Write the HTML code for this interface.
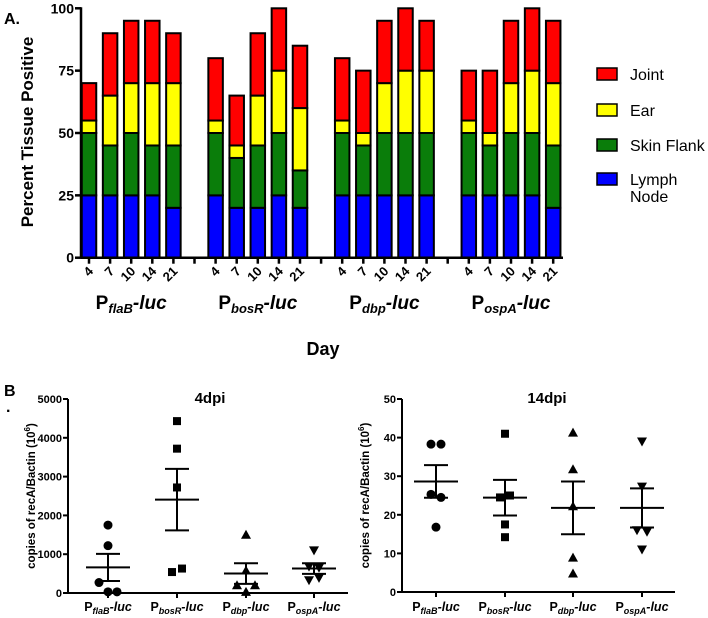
<!DOCTYPE html>
<html><head><meta charset="utf-8"><style>
body{margin:0;background:#fff}
svg{display:block;font-family:"Liberation Sans",Arial,sans-serif;font-weight:bold}
</style></head><body>
<svg id="fig" width="708" height="618" viewBox="0 0 708 618">
<text x="4" y="24" font-size="16">A.</text>
<text x="4" y="396" font-size="16">B</text>
<text x="6" y="412" font-size="16">.</text>
<g id="topg"></g><g id="b1"></g><g id="b2"></g>
</svg>
<script>
const NS="http://www.w3.org/2000/svg";
const groups=["flaB","bosR","dbp","ospA"];
const days=["4","7","10","14","21"];
const yTicksA=[0,25,50,75,100];
const lymph=[25,25,25,25,20, 25,20,20,25,20, 25,25,25,25,25, 25,25,25,25,20];
const skin =[25,20,25,20,25, 25,20,25,25,15, 25,20,25,25,25, 25,20,25,25,25];
const ear  =[5,20,20,25,25,  5,5,20,25,25,  5,5,20,25,25,  5,5,20,25,25];
const joint=[15,25,25,25,20, 25,20,25,25,25, 25,25,25,25,20, 20,25,25,25,25];
const seriesNames=["Lymph Node","Skin Flank","Ear","Joint"];
const seriesColors=["#0000ff","#0a7d0a","#ffff00","#ff0000"];

const catsB=["flaB","bosR","dbp","ospA"];
const d4flaB=[1750,1220,270,30,30];
const d4bosR=[4430,3720,2720,540,630];
const d4dbp=[1500,580,200,200,30];
const d4ospA=[1100,680,650,330,390];
const d14flaB=[38.3,38.3,25.3,24.5,16.8];
const d14bosR=[41,24.5,25,17.5,14.2];
const d14dbp=[41.3,31.8,22.2,8.9,4.8];
const d14ospA=[39,27.3,16,15.6,11];
const ticks4=[0,1000,2000,3000,4000,5000];
const ticks14=[0,10,20,30,40,50];
const jitter=[[0,0,-9,0,9],[0,0,0,-5,5],[0,0,-9,9,0],[0,-5,5,-5,5]];
const jitter14=[[-5,5,-5,5,0],[0,-5,5,0,0],[0,0,0,0,0],[0,0,-5,5,0]];

function el(tag,attrs,parent,text){const e=document.createElementNS(NS,tag);for(const k in attrs)e.setAttribute(k,attrs[k]);if(text!==undefined)e.textContent=text;parent.appendChild(e);return e;}

// ---- Panel A ----
const topG=document.getElementById('topg');
const ax0=81,y0=257.7,yTop=8.3,slot=21.1,bw=14.5;
const yA=v=>y0-(y0-yTop)*v/100;
const xA=i=>89+slot*i;
function slotIdx(g,d){return g*6+d;}
const stacks=[lymph,skin,ear,joint];
for(let g=0;g<4;g++)for(let d=0;d<5;d++){
  const k=g*5+d;let base=0;
  for(let s=0;s<4;s++){
    const v=stacks[s][k];
    const r=el('rect',{x:xA(slotIdx(g,d))-bw/2,y:yA(base+v),width:bw,height:yA(base)-yA(base+v),fill:seriesColors[s],stroke:"#000","stroke-width":2},topG);
    
    
    base+=v;
  }
}
let a=el('line',{x1:ax0,y1:yTop-1,x2:ax0,y2:y0,stroke:"#000","stroke-width":2.5},topG);

a=el('line',{x1:ax0,y1:y0,x2:563,y2:y0,stroke:"#000","stroke-width":2.5},topG);

yTicksA.forEach(v=>{
  el('line',{x1:ax0-6,y1:yA(v),x2:ax0,y2:yA(v),stroke:"#000","stroke-width":2.5},topG);
  const t=el('text',{x:ax0-7,y:yA(v)+5,"font-size":14,"text-anchor":"end"},topG,String(v));
  
});
for(let i=0;i<23;i++){el('line',{x1:xA(i),y1:y0,x2:xA(i),y2:y0+6,stroke:"#000","stroke-width":2.5},topG);}
for(let g=0;g<4;g++){
  for(let d=0;d<5;d++){
    const x=xA(slotIdx(g,d));
    const t=el('text',{x:x+5,y:272,"font-size":13,"text-anchor":"end",transform:`rotate(-45 ${x+5} 272)`},topG,days[d]);
    
  }
  const cx=xA(slotIdx(g,2));
  const t=el('text',{x:cx,y:309,"font-size":19,"text-anchor":"middle"},topG);
  
  el('tspan',{},t,"P");el('tspan',{"font-size":13,"font-style":"italic",dy:4},t,groups[g]);el('tspan',{"font-style":"italic",dy:-4},t,"-luc");
}
let t=el('text',{x:323,y:355,"font-size":18,"text-anchor":"middle"},topG,"Day");

t=el('text',{x:33,y:132,"font-size":17,"text-anchor":"middle",transform:"rotate(-90 33 132)"},topG,"Percent Tissue Positive");

const legY=[74,110,145,179];
[3,2,1,0].forEach((s,i)=>{
  const r=el('rect',{x:597,y:legY[i]-6,width:20,height:12,fill:seriesColors[s],stroke:"#000","stroke-width":1.5},topG);
  
  const names=s===0?["Lymph","Node"]:[seriesNames[s]];
  names.forEach((n,j)=>{const tt=el('text',{x:630,y:legY[i]+6+j*17,"font-size":16,"font-weight":"normal"},topG,n);
    });
});

// ---- Panel B ----
function scatter(gid,ox,xEnd,yb,yt,ticks,centers,data,jit,title,titleX){
  const G=document.getElementById(gid);const max=ticks[ticks.length-1];
  const y=v=>yb-(yb-yt)*v/max;
  let l=el('line',{x1:ox,y1:yt,x2:ox,y2:yb,stroke:"#000","stroke-width":2},G);
  
  l=el('line',{x1:ox,y1:yb,x2:xEnd,y2:yb,stroke:"#000","stroke-width":2},G);
  
  ticks.forEach(v=>{el('line',{x1:ox-5,y1:y(v),x2:ox,y2:y(v),stroke:"#000","stroke-width":2},G);
    const tt=el('text',{x:ox-6,y:y(v)+4,"font-size":11,"text-anchor":"end"},G,String(v));
    });
  const tt=el('text',{x:titleX,y:403,"font-size":15,"text-anchor":"middle"},G,title);
  
  const ly=(yb+yt)/2;
  const yl=el('text',{x:ox-33,y:ly,"font-size":11.5,"text-anchor":"middle",transform:`rotate(-90 ${ox-33} ${ly})`},G);
  
  el('tspan',{},yl,"copies of recA/Bactin (10");el('tspan',{"font-size":8,dy:-5},yl,"6");el('tspan',{dy:5},yl,")");
  catsB.forEach((c,i)=>{
    const cx=centers[i];const vals=data[i];
    el('line',{x1:cx,y1:yb,x2:cx,y2:yb+5,stroke:"#000","stroke-width":2},G);
    const lab=el('text',{x:cx,y:611,"font-size":12.5,"text-anchor":"middle"},G);
    
    el('tspan',{},lab,"P");el('tspan',{"font-size":9,"font-style":"italic",dy:3},lab,c);el('tspan',{"font-style":"italic",dy:-3},lab,"-luc");
    vals.forEach((v,j)=>{
      const px=cx+jit[i][j],py=y(v);let m;
      if(i===0)m=el('circle',{cx:px,cy:py,r:4.5},G);
      else if(i===1)m=el('rect',{x:px-4,y:py-4,width:8,height:8},G);
      else if(i===2)m=el('polygon',{points:`${px},${py-5} ${px-5},${py+4} ${px+5},${py+4}`},G);
      else m=el('polygon',{points:`${px},${py+5} ${px-5},${py-4} ${px+5},${py-4}`},G);
      
    });
    const n=vals.length,mean=vals.reduce((s,v)=>s+v,0)/n;
    const sd=Math.sqrt(vals.reduce((s,v)=>s+(v-mean)**2,0)/(n-1)),sem=sd/Math.sqrt(n);
    let e=el('line',{x1:cx-22,y1:y(mean),x2:cx+22,y2:y(mean),stroke:"#000","stroke-width":2},G);
    
    e=el('path',{d:`M${cx},${y(mean-sem)}V${y(mean+sem)}M${cx-12},${y(mean+sem)}H${cx+12}M${cx-12},${y(mean-sem)}H${cx+12}`,stroke:"#000","stroke-width":2,fill:"none"},G);
    
  });
}
scatter('b1',68,348,593,399,ticks4,[108,177,246,314],[d4flaB,d4bosR,d4dbp,d4ospA],jitter,"4dpi",210);
scatter('b2',402,675,592,399,ticks14,[436,505,573,642],[d14flaB,d14bosR,d14dbp,d14ospA],jitter14,"14dpi",547);
</script>
</body></html>
